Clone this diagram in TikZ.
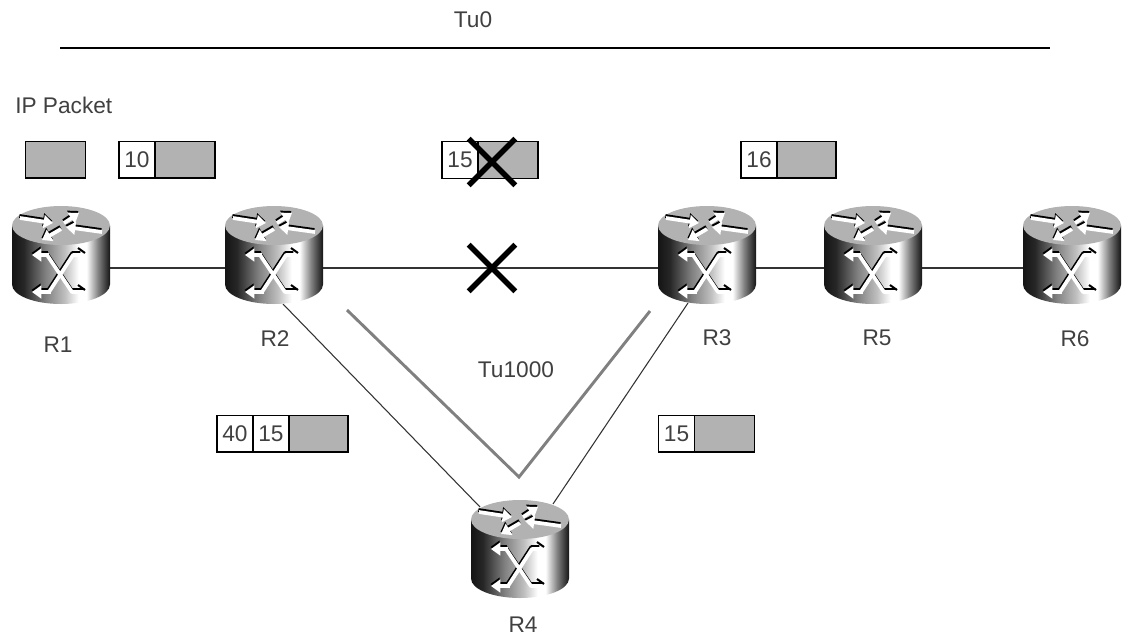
\documentclass[tikz,border=0pt]{standalone}
\usepackage{fontspec}
\setmainfont{Liberation Sans}
\usetikzlibrary{arrows.meta,backgrounds,calc,shapes.misc}

\definecolor{pktgray}{gray}{0.70}
\definecolor{inkgray}{gray}{0.25}
\pgfdeclarehorizontalshading{routerbody}{100bp}{color(0bp)=(black!92); color(25bp)=(black!92); color(31bp)=(black!85); color(42bp)=(black!50); color(52bp)=(black!25); color(59bp)=(white); color(63bp)=(white); color(69bp)=(black!50); color(75bp)=(black!92); color(100bp)=(black!92)}

\tikzset{
  routerbox/.style={shape=rectangle, minimum width=73.5pt, minimum height=73.5pt, inner sep=0pt, outer sep=0pt},
  numbox/.style={shape=rectangle, draw=black, line width=1pt, fill=white, text=inkgray, minimum width=27pt, minimum height=27.5pt, inner sep=0pt, outer sep=0pt},
  pktbox/.style={shape=rectangle, draw=black, line width=1pt, fill=pktgray, minimum height=27.5pt, inner sep=0pt, outer sep=0pt},
  failcross/.style={cross out, draw=black, line width=4.2pt, minimum size=35pt, inner sep=0pt, outer sep=0pt},
  txt/.style={text=inkgray, inner sep=0pt},
  link/.style={draw=black!80, line width=0.8pt},
  tunnel/.style={draw=black!50, line width=2.2pt},
  glyph/.style={line width=2.8pt, -{Triangle[length=7pt,width=9.5pt]}},
  routericon/.pic={
    \shade[shading=routerbody] (-49,-29.5) -- (-49,29.5) arc [start angle=180, end angle=0, x radius=49, y radius=19.5] -- (49,-29.5) -- cycle;
    \fill [pktgray] (0,-29.5) ellipse [x radius=49, y radius=19.5];
    \foreach \ink/\off in {black/-2,white/0} {
      \begin{scope}[shift={(\off*0.3,\off)}]
        \draw [glyph,draw=\ink] (-41,-37) -- (-8,-32);
        \draw [glyph,draw=\ink] (0,-26) -- (-19,-15);
        \draw [glyph,draw=\ink] (3,-32) -- (18,-42);
        \draw [glyph,draw=\ink] (41,-23) -- (5,-28);
        \draw [glyph,draw=\ink,-,line join=round] (-14,0) -- (11,37) -- (24,37);
        \draw [glyph,draw=\ink,-,line join=round] (-12,37) -- (12,0) -- (20,0);
        \draw [glyph,draw=\ink] (-12,0) -- (-29,0);
        \draw [glyph,draw=\ink] (-10,37) -- (-29,37);
      \end{scope}
    }
    \draw [black,line width=1.5pt] (17,-7) -- (24,-2);
    \draw [black,line width=1.5pt] (17,30) -- (24,35);
  }
}

\begin{document}
\begin{tikzpicture}[x=0.75pt,y=-0.75pt,font=\fontsize{17}{19}\selectfont]
\useasboundingbox (0,0) rectangle (1129,637);

% routers
\path (61,255) pic {routericon} node (R1) [routerbox] {};
\path (274,255) pic {routericon} node (R2) [routerbox] {};
\path (707,255) pic {routericon} node (R3) [routerbox] {};
\path (873,255) pic {routericon} node (R5) [routerbox] {};
\path (1072,255) pic {routericon} node (R6) [routerbox] {};
\path (520,549) pic {routericon} node (R4) [routerbox] {};

\path (58,345) node (lR1) [txt] {R1};
\path (275,339) node (lR2) [txt] {R2};
\path (717,338) node (lR3) [txt] {R3};
\path (877,338) node (lR5) [txt] {R5};
\path (1075,339) node (lR6) [txt] {R6};
\path (523,625) node (lR4) [txt] {R4};

% links
\begin{scope}[on background layer]
\draw [link] ($(R1)+(0,13)$) to ($(R2)+(0,13)$);
\draw [link] ($(R2)+(0,13)$) to ($(R3)+(0,13)$);
\draw [link] ($(R3)+(0,13)$) to ($(R5)+(0,13)$);
\draw [link] ($(R5)+(0,13)$) to ($(R6)+(0,13)$);
\draw [link] ($(R2.south)+(9,0)$) to ($(R4.north)+(-40,7)$);
\draw [link] ($(R3.south)+(-19,-1)$) to ($(R4.north)+(33,4)$);
\end{scope}

% tunnels
\coordinate (tu0a) at (60,48);
\coordinate (tu0b) at (1050,48);
\draw [draw=black,line width=2pt] (tu0a) to (tu0b);
\path (473,20) node (lTu0) [txt] {Tu0};

\coordinate (tua) at (347,310);
\coordinate (tub) at (519,477);
\coordinate (tuc) at (650,311);
\draw [tunnel] (tua) -- (tub) -- (tuc);
\path (516,370) node (lTu1000) [txt] {Tu1000};

% packets
\path (15,105) node (lPkt) [txt,anchor=west] {IP Packet};
\path (55.5,159.5) node (P1) [pktbox,minimum width=45pt] {};

\path (137,159.5) node (A1) [numbox] {10};
\path (185,159.5) node (P2) [pktbox,minimum width=45pt] {};

\path (460,160) node (A2) [numbox] {15};
\path (508,160) node (P3) [pktbox,minimum width=45pt] {};

\path (759,159.5) node (A3) [numbox] {16};
\path (806.5,159.5) node (P4) [pktbox,minimum width=44pt] {};

\path (235,433.5) node (A4) [numbox] {40};
\path (271,433.5) node (A5) [numbox] {15};
\path (318.5,433.5) node (P5) [pktbox,minimum width=44pt] {};

\path (676.5,433.5) node (A6) [numbox] {15};
\path (724.5,433.5) node (P6) [pktbox,minimum width=45pt] {};

% failures
\path (492,162) node (X1) [failcross] {};
\path (492,268) node (X2) [failcross] {};

\end{tikzpicture}
\end{document}
